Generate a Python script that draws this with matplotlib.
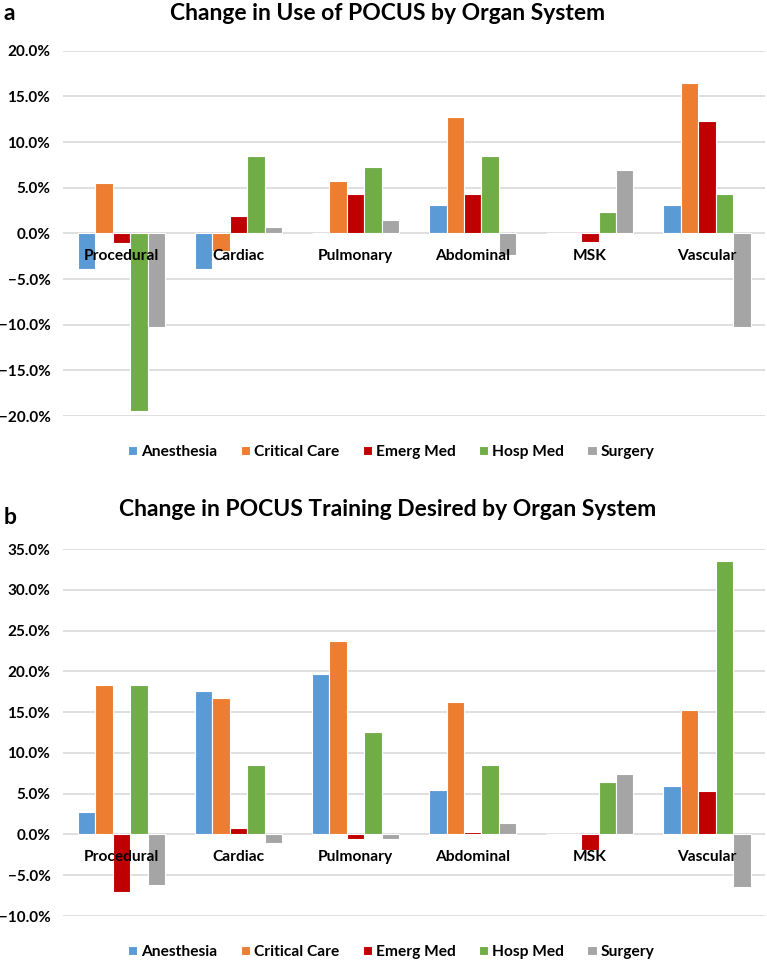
import matplotlib
matplotlib.use('Agg')
import matplotlib.pyplot as plt
import numpy as np
from matplotlib.ticker import PercentFormatter

plt.rcParams['font.family'] = ['Lato', 'DejaVu Sans']
plt.rcParams['font.weight'] = 'bold'

organs = ['Procedural', 'Cardiac', 'Pulmonary', 'Abdominal', 'MSK', 'Vascular']
specialties = ['Anesthesia', 'Critical Care', 'Emerg Med', 'Hosp Med', 'Surgery']
colors = ['#5B9BD5', '#ED7D31', '#C00000', '#70AD47', '#A5A5A5']

# a: change in use (%), one list per specialty, in organ order
use_anesthesia = [-3.9, -3.9, 0.0, 3.1, 0.0, 3.1]
use_critical = [5.5, -1.9, 5.7, 12.7, 0.0, 16.5]
use_emerg = [-1.1, 1.9, 4.3, 4.3, -0.9, 12.3]
use_hosp = [-19.5, 8.5, 7.3, 8.5, 2.3, 4.3]
use_surgery = [-10.3, 0.7, 1.5, -2.4, 6.9, -10.3]

# b: change in training desired (%)
train_anesthesia = [2.8, 17.6, 19.7, 5.5, 0.0, 6.0]
train_critical = [18.3, 16.7, 23.7, 16.2, 0.0, 15.3]
train_emerg = [-7.1, 0.8, -0.6, 0.3, -1.9, 5.3]
train_hosp = [18.3, 8.5, 12.6, 8.5, 6.4, 33.5]
train_surgery = [-6.2, -1.0, -0.6, 1.4, 7.4, -6.5]

use_data = [use_anesthesia, use_critical, use_emerg, use_hosp, use_surgery]
train_data = [train_anesthesia, train_critical, train_emerg, train_hosp, train_surgery]

fig = plt.figure(figsize=(7.67, 9.61), dpi=100)
ax1 = fig.add_axes([0.082, 0.5671, 0.916, 0.3801])
ax2 = fig.add_axes([0.082, 0.0468, 0.916, 0.3819])


def draw(ax, data, ylo, yhi, title, letter, title_y, letter_y, leg_y):
    x = np.arange(len(organs))
    w = 0.149
    for k, (vals, c, name) in enumerate(zip(data, colors, specialties)):
        ax.bar(x + (k - 2) * w, vals, width=w, color=c, edgecolor='white',
               linewidth=0.8, label=name, zorder=2)
    ax.set_xlim(-0.5, len(organs) - 0.5)
    ax.set_ylim(ylo, yhi)
    ax.set_yticks(np.arange(ylo, yhi + 0.1, 5))
    ax.yaxis.set_major_formatter(PercentFormatter(decimals=1))
    ax.set_xticks([])
    ax.grid(axis='y', color='#d9d9d9', linewidth=1.2, zorder=0)
    ax.set_axisbelow(True)
    for s in ax.spines.values():
        s.set_visible(False)
    ax.tick_params(axis='y', length=0, pad=9, labelsize=11)
    for i, name in enumerate(organs):
        ax.annotate(name, xy=(i, 0), xytext=(0, -16), textcoords='offset points',
                    ha='center', va='center', fontsize=11.2, fontweight='bold',
                    zorder=5)
    fig.text(0.505, title_y, title, ha='center', va='center', fontsize=16.5,
             fontweight='bold')
    fig.text(0.005, letter_y, letter, ha='left', va='center', fontsize=16.5,
             fontweight='bold')
    fig.legend(*ax.get_legend_handles_labels(), loc='center',
               bbox_to_anchor=(0.51, leg_y), ncol=5, frameon=False,
               fontsize=11.2, handlelength=0.6, handleheight=0.6,
               handletextpad=0.25, columnspacing=1.5)


draw(ax1, use_data, -20, 20, 'Change in Use of POCUS by Organ System', 'a',
     1 - 13 / 961, 1 - 13 / 961, 1 - 452 / 961)
draw(ax2, train_data, -10, 35, 'Change in POCUS Training Desired by Organ System', 'b',
     1 - 510 / 961, 1 - 517 / 961, 1 - 952 / 961)

fig.savefig('out.png', dpi=100)
